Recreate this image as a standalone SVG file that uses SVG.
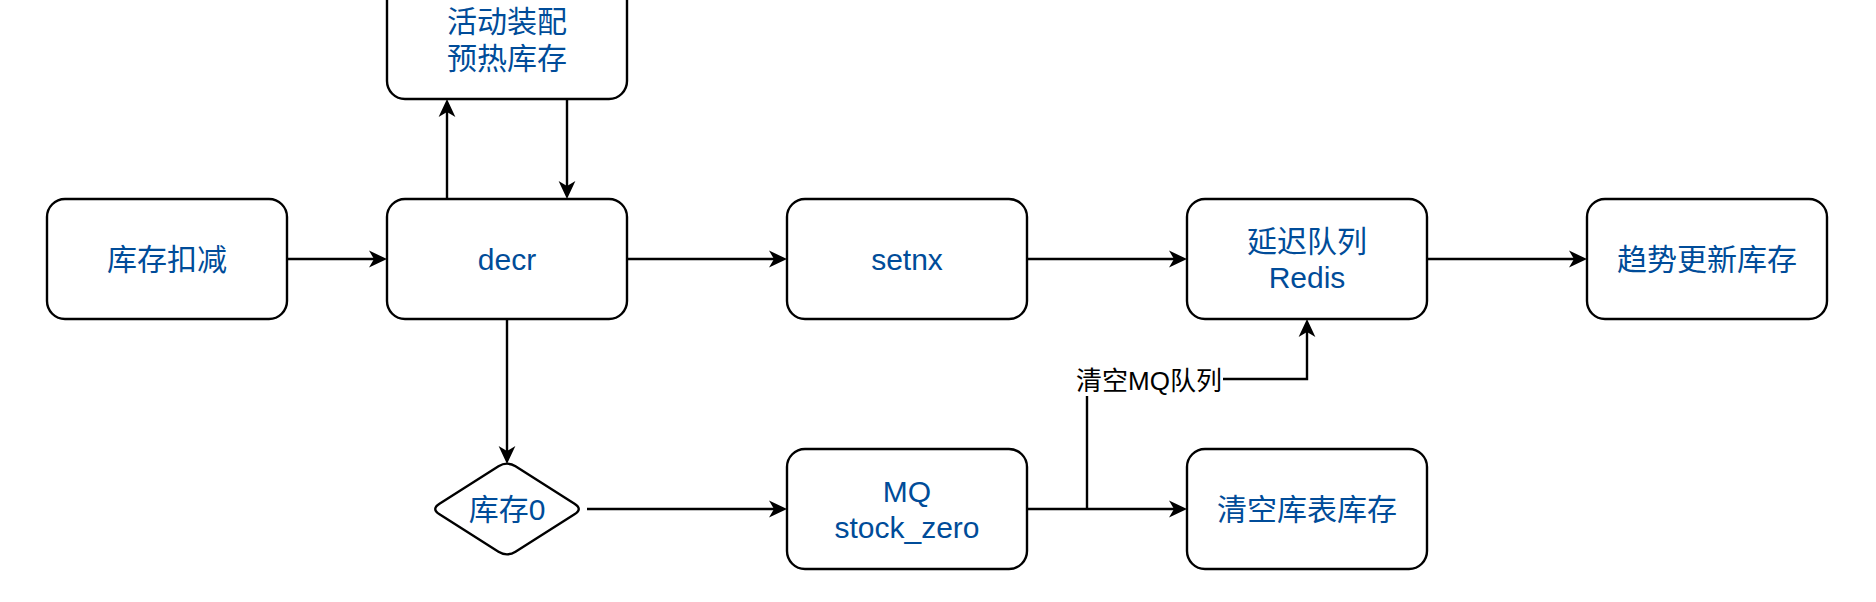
<svg xmlns="http://www.w3.org/2000/svg" width="1876" height="602" viewBox="0 0 1876 602">
<style>
.box{fill:#ffffff;stroke:#000000;stroke-width:2.4}
.t{font-family:"Liberation Sans","Noto Sans CJK SC",sans-serif;font-size:30px;fill:#004C99;text-anchor:middle}
.lbl{font-family:"Liberation Sans","Noto Sans CJK SC",sans-serif;font-size:26px;fill:#000000;text-anchor:middle}
.edge{fill:none;stroke:#000000;stroke-width:2.4}
</style>
<defs>
<marker id="arr" markerUnits="userSpaceOnUse" markerWidth="20" markerHeight="20" refX="0" refY="0" orient="auto" overflow="visible">
<path d="M12,0 L-6,-8.4 L-1,0 L-6,8.4 Z" fill="#000000" stroke="none"/>
</marker>
</defs>
<rect x="0" y="0" width="1876" height="602" fill="#ffffff"/>
<g id="connectors">
<path class="edge" d="M287,259 L375,259" marker-end="url(#arr)"/>
<path class="edge" d="M447,199 L447,111" marker-end="url(#arr)"/>
<path class="edge" d="M567,99 L567,187" marker-end="url(#arr)"/>
<path class="edge" d="M627,259 L775,259" marker-end="url(#arr)"/>
<path class="edge" d="M1027,259 L1175,259" marker-end="url(#arr)"/>
<path class="edge" d="M1427,259 L1575,259" marker-end="url(#arr)"/>
<path class="edge" d="M507,319 L507,452" marker-end="url(#arr)"/>
<path class="edge" d="M587,509 L775,509" marker-end="url(#arr)"/>
<path class="edge" d="M1027,509 L1175,509" marker-end="url(#arr)"/>
<path class="edge" d="M1087,509 L1087,379 L1307,379 L1307,331" marker-end="url(#arr)"/>
<g id="label-clear-mq">
<rect x="1075" y="363" width="148" height="33" fill="#ffffff"/>
<text class="lbl" x="1149" y="390">清空MQ队列</text>
</g>
</g>
<g id="node-deduct">
<rect class="box" x="47" y="199" width="240" height="120" rx="18" ry="18"/>
<text class="t" x="167" y="270">库存扣减</text>
</g>
<g id="node-preheat">
<rect class="box" x="387" y="-21" width="240" height="120" rx="18" ry="18"/>
<text class="t" x="507" y="32">活动装配</text>
<text class="t" x="507" y="69">预热库存</text>
</g>
<g id="node-decr">
<rect class="box" x="387" y="199" width="240" height="120" rx="18" ry="18"/>
<text class="t" x="507" y="270">decr</text>
</g>
<g id="node-setnx">
<rect class="box" x="787" y="199" width="240" height="120" rx="18" ry="18"/>
<text class="t" x="907" y="270">setnx</text>
</g>
<g id="node-delay-queue">
<rect class="box" x="1187" y="199" width="240" height="120" rx="18" ry="18"/>
<text class="t" x="1307" y="252">延迟队列</text>
<text class="t" x="1307" y="288">Redis</text>
</g>
<g id="node-trend">
<rect class="box" x="1587" y="199" width="240" height="120" rx="18" ry="18"/>
<text class="t" x="1707" y="270">趋势更新库存</text>
</g>
<g id="node-zero">
<path class="box" d="M498.5,466.3 Q507,461 515.5,466.3 L574.5,503.7 Q583,509 574.5,514.3 L515.5,551.7 Q507,557 498.5,551.7 L439.5,514.3 Q431,509 439.5,503.7 Z"/>
<text class="t" x="507" y="520">库存0</text>
</g>
<g id="node-mq">
<rect class="box" x="787" y="449" width="240" height="120" rx="18" ry="18"/>
<text class="t" x="907" y="502">MQ</text>
<text class="t" x="907" y="538">stock_zero</text>
</g>
<g id="node-clear-table">
<rect class="box" x="1187" y="449" width="240" height="120" rx="18" ry="18"/>
<text class="t" x="1307" y="520">清空库表库存</text>
</g>
</svg>
